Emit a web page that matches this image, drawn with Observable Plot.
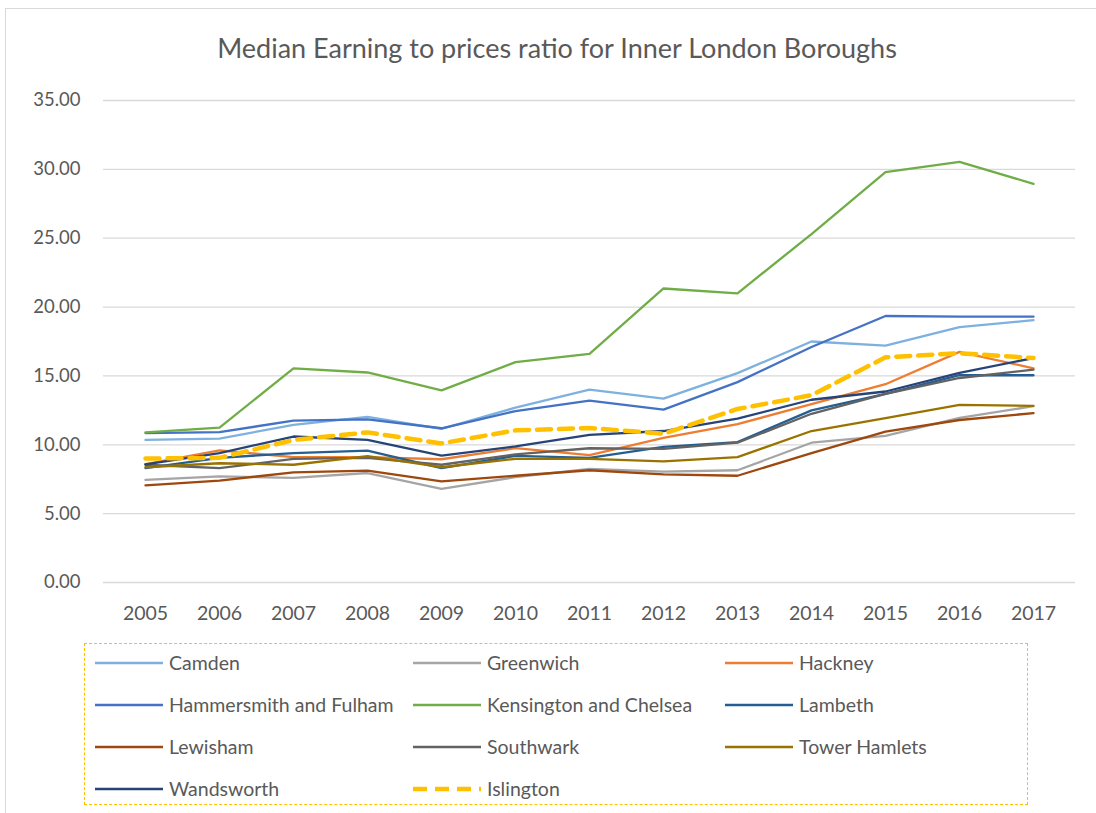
<!DOCTYPE html>
<html>
<head>
<meta charset="utf-8">
<script src="https://cdn.jsdelivr.net/npm/d3@7"></script>
<script src="https://cdn.jsdelivr.net/npm/@observablehq/plot@0.6"></script>
<style>
  html, body { margin: 0; padding: 0; background: #fff; }
  body { width: 1096px; height: 813px; position: relative; overflow: hidden; font-family: Lato, "Open Sans", sans-serif; }
  #frame { position: absolute; left: 5px; top: 8px; width: 1200px; height: 900px; border: 1px solid #D9D9D9; box-sizing: border-box; }
  #title { position: absolute; left: 0; width: 1114px; top: 31px; text-align: center; font-size: 27px; color: #595959; }
  #chart { position: absolute; left: 0; top: 0; }
  #legend { position: absolute; left: 84px; top: 643px; width: 944px; height: 162px; border: 1.3px dashed #FFC000; box-sizing: border-box; }
  .item { position: absolute; font-size: 19.5px; color: #595959; display: flex; align-items: center; white-space: nowrap; }
  .item svg { margin-right: 6px; }
</style>
</head>
<body>
<div id="frame"></div>
<div id="title">Median Earning to prices ratio for Inner London Boroughs</div>
<div id="chart"></div>
<div id="legend"></div>
<script>
const years = [2005, 2006, 2007, 2008, 2009, 2010, 2011, 2012, 2013, 2014, 2015, 2016, 2017];
const yTicks = [0, 5, 10, 15, 20, 25, 30, 35];

const seriesNames = ["Camden", "Greenwich", "Hackney", "Hammersmith and Fulham", "Kensington and Chelsea", "Lambeth", "Lewisham", "Southwark", "Tower Hamlets", "Wandsworth", "Islington"];
const seriesColors = ["#7EB0E0", "#A5A5A5", "#ED7D31", "#4472C4", "#70AD47", "#255E91", "#9E480E", "#636363", "#997300", "#264478", "#FFC000"];

const camden       = [10.35, 10.45, 11.45, 12.02, 11.15, 12.7, 14.0, 13.35, 15.2, 17.5, 17.2, 18.55, 19.05];
const greenwich    = [7.45, 7.7, 7.6, 7.95, 6.8, 7.65, 8.25, 8.05, 8.15, 10.15, 10.65, 11.95, 12.8];
const hackney      = [8.6, 9.6, 9.1, 9.1, 8.95, 9.75, 9.25, 10.5, 11.5, 12.95, 14.4, 16.75, 15.55];
const hammersmith  = [10.85, 10.92, 11.75, 11.85, 11.2, 12.45, 13.2, 12.55, 14.55, 17.1, 19.35, 19.3, 19.3];
const kensington   = [10.9, 11.25, 15.55, 15.25, 13.95, 16.0, 16.6, 21.35, 21.0, 25.3, 29.8, 30.55, 28.95];
const lambeth      = [8.3, 9.05, 9.4, 9.58, 8.3, 9.2, 9.05, 9.85, 10.2, 12.5, 13.7, 15.05, 15.05];
const lewisham     = [7.05, 7.4, 8.0, 8.12, 7.35, 7.75, 8.15, 7.85, 7.75, 9.4, 10.95, 11.8, 12.3];
const southwark    = [8.55, 8.3, 8.98, 9.05, 8.55, 9.3, 9.75, 9.7, 10.15, 12.25, 13.7, 14.85, 15.45];
const towerHamlets = [8.37, 8.66, 8.55, 9.17, 8.37, 8.98, 8.98, 8.8, 9.1, 11.0, 11.93, 12.9, 12.83];
const wandsworth   = [8.57, 9.4, 10.6, 10.36, 9.22, 9.88, 10.72, 11.0, 11.9, 13.27, 13.87, 15.23, 16.3];
const islington    = [9.0, 9.05, 10.35, 10.9, 10.1, 11.05, 11.22, 10.8, 12.6, 13.6, 16.35, 16.65, 16.3];

const seriesValues = [camden, greenwich, hackney, hammersmith, kensington, lambeth, lewisham, southwark, towerHamlets, wandsworth, islington];

const rows = [];
seriesNames.forEach((name, i) => {
  years.forEach((yr, j) => rows.push({series: name, year: yr, value: seriesValues[i][j]}));
});
const solidRows = rows.filter(d => d.series !== "Islington");
const islRows = rows.filter(d => d.series === "Islington");

const plot = Plot.plot({
  width: 1096,
  height: 632,
  marginLeft: 103,
  marginRight: 21,
  marginTop: 100,
  marginBottom: 50,
  style: { fontFamily: "Lato, 'Open Sans', sans-serif", fontSize: "19px", color: "#595959", background: "transparent", overflow: "visible" },
  x: { type: "point", domain: years, padding: 0.5, label: null, tickSize: 0, tickPadding: 24, tickFormat: d => String(d) },
  y: { domain: [0, 35], ticks: yTicks, label: null, tickSize: 0, tickPadding: 23, tickFormat: d => d.toFixed(2) },
  color: { domain: seriesNames, range: seriesColors },
  marks: [
    Plot.gridY(yTicks, { stroke: "#D9D9D9", strokeOpacity: 1, strokeWidth: 1.3 }),
    Plot.axisX({ tickSize: 0, tickPadding: 24, tickFormat: d => String(d), fill: "#595959", fontSize: 19.5 }),
    Plot.axisY(yTicks, { tickSize: 0, tickPadding: 23, tickFormat: d => d.toFixed(2), fill: "#595959", fontSize: 18.5 }),
    Plot.line(solidRows, { x: "year", y: "value", z: "series", stroke: "series", strokeWidth: 2.3, strokeLinejoin: "round", strokeLinecap: "round" }),
    Plot.line(islRows, { x: "year", y: "value", stroke: "#FFC000", strokeWidth: 4.5, strokeDasharray: "14,8" })
  ]
});
document.getElementById("chart").appendChild(plot);

// Legend
const legend = document.getElementById("legend");
const colX = [10, 328, 640];
const rowY = [20, 62, 104, 146];
seriesNames.forEach((name, i) => {
  const col = i % 3, row = Math.floor(i / 3);
  const div = document.createElement("div");
  div.className = "item";
  div.style.left = colX[col] + "px";
  div.style.top = (rowY[row] - 13) + "px";
  const dashed = name === "Islington";
  div.innerHTML = `<svg width="68" height="8"><line x1="0" x2="68" y1="4" y2="4" stroke="${seriesColors[i]}" stroke-width="${dashed ? 4.5 : 2.3}" ${dashed ? 'stroke-dasharray="14,8"' : ''}/></svg><span>${name}</span>`;
  legend.appendChild(div);
});
</script>
</body>
</html>
